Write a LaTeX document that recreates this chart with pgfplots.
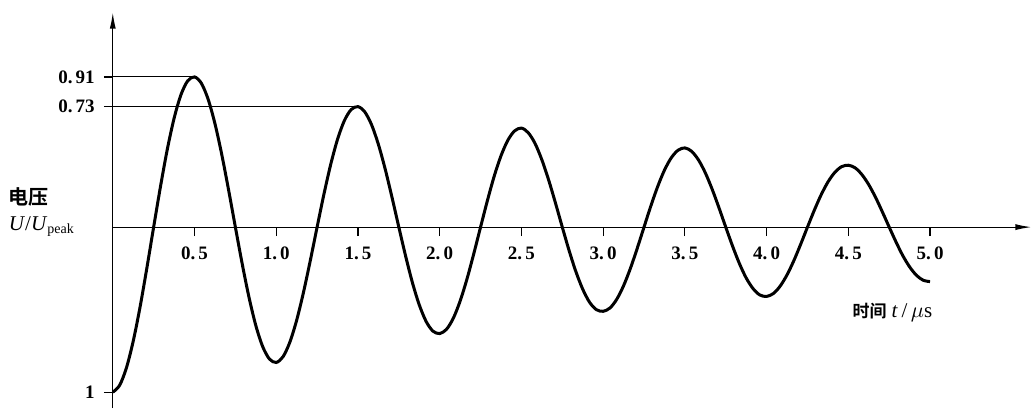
\documentclass[border=0pt]{standalone}
\usepackage{pgfplots}
\pgfplotsset{compat=1.18}
\usetikzlibrary{arrows.meta}
\usepackage{fontspec}
\setmainfont{Liberation Serif}
\newfontfamily\cjk{Noto Sans CJK SC}[BoldFont={Noto Sans CJK SC Bold}]

\begin{document}
\begin{tikzpicture}
\begin{axis}[
    x=81.7pt, y=82.5pt,
    xmin=0, xmax=5.62,
    ymin=-1.097, ymax=1.30,
    axis lines=middle,
    axis line style={line width=0.6pt, -{Latex[length=8pt,width=3pt]}},
    clip=false,
    enlargelimits=false,
    tick align=outside,
    major tick length=4.5pt,
    tick style={line width=0.6pt, black},
    xtick={0.5,1,1.5,2,2.5,3,3.5,4,4.5,5},
    xticklabels={{0.\,5},{1.\,0},{1.\,5},{2.\,0},{2.\,5},{3.\,0},{3.\,5},{4.\,0},{4.\,5},{5.\,0}},
    ytick={-1,0.73,0.91},
    yticklabels={1,{0.\,73},{0.\,91}},
    tick label style={font=\bfseries\fontsize{9.5}{10}\selectfont},
    xticklabel style={yshift=-2pt},
    yticklabel style={xshift=-1pt},
  ]
  % invisible frame that fixes the picture's extent
  \path (axis cs:-0.69,-1.097) rectangle (axis cs:5.62,1.376);

  % guide lines to the first two peaks
  \addplot[line width=0.5pt] coordinates {(0,0.91) (0.5,0.91)};
  \addplot[line width=0.5pt] coordinates {(0,0.73) (1.5,0.73)};

  % damped ring wave, every 1/24 us
  \addplot[smooth, line width=1.5pt] coordinates {
    (0,-1.000) (0.0417,-0.959) (0.0833,-0.853) (0.125,-0.691) (0.1667,-0.485) (0.2083,-0.249)
    (0.25,0) (0.2917,0.245) (0.3333,0.470) (0.375,0.659) (0.4167,0.801) (0.4583,0.886)
    (0.5,0.910) (0.5417,0.872) (0.5833,0.775) (0.625,0.627) (0.6667,0.440) (0.7083,0.226)
    (0.75,0) (0.7917,-0.222) (0.8333,-0.425) (0.875,-0.596) (0.9167,-0.723) (0.9583,-0.799)
    (1.0,-0.820) (1.0417,-0.785) (1.0833,-0.697) (1.125,-0.564) (1.1667,-0.395) (1.2083,-0.203)
    (1.25,0) (1.2917,0.199) (1.3333,0.380) (1.375,0.532) (1.4167,0.645) (1.4583,0.712)
    (1.5,0.730) (1.5417,0.698) (1.5833,0.620) (1.625,0.501) (1.6667,0.351) (1.7083,0.180)
    (1.75,0) (1.7917,-0.176) (1.8333,-0.337) (1.875,-0.471) (1.9167,-0.571) (1.9583,-0.630)
    (2.0,-0.645) (2.0417,-0.619) (2.0833,-0.552) (2.125,-0.448) (2.1667,-0.315) (2.2083,-0.162)
    (2.25,0) (2.2917,0.160) (2.3333,0.308) (2.375,0.432) (2.4167,0.526) (2.4583,0.583)
    (2.5,0.600) (2.5417,0.572) (2.5833,0.507) (2.625,0.408) (2.6667,0.285) (2.7083,0.146)
    (2.75,0) (2.7917,-0.142) (2.8333,-0.270) (2.875,-0.376) (2.9167,-0.455) (2.9583,-0.500)
    (3.0,-0.510) (3.0417,-0.490) (3.0833,-0.437) (3.125,-0.355) (3.1667,-0.250) (3.2083,-0.129)
    (3.25,0) (3.2917,0.128) (3.3333,0.245) (3.375,0.345) (3.4167,0.420) (3.4583,0.466)
    (3.5,0.480) (3.5417,0.459) (3.5833,0.407) (3.625,0.329) (3.6667,0.230) (3.7083,0.118)
    (3.75,0) (3.7917,-0.115) (3.8333,-0.220) (3.875,-0.308) (3.9167,-0.372) (3.9583,-0.411)
    (4.0,-0.420) (4.0417,-0.402) (4.0833,-0.357) (4.125,-0.289) (4.1667,-0.203) (4.2083,-0.104)
    (4.25,0) (4.2917,0.102) (4.3333,0.195) (4.375,0.273) (4.4167,0.331) (4.4583,0.366)
    (4.5,0.375) (4.5417,0.359) (4.5833,0.318) (4.625,0.257) (4.6667,0.180) (4.7083,0.092)
    (4.75,0) (4.7917,-0.090) (4.8333,-0.173) (4.875,-0.241) (4.9167,-0.292) (4.9583,-0.322)
    (5.0,-0.330)
  };

  % axis titles
  \node[anchor=east, align=left, inner sep=0pt] at (axis cs:-0.23,0.09)
    {{\cjk\bfseries\fontsize{10}{11}\selectfont 电压}\\[1pt]
     {\fontsize{10.5}{11}\selectfont\itshape U\/\upshape/\itshape U\/\upshape\textsubscript{\fontsize{7}{7}\selectfont peak}}};
  \node[anchor=center, inner sep=0pt] at (axis cs:4.77,-0.515)
    {{\cjk\bfseries\fontsize{8.5}{9}\selectfont 时间} {\fontsize{10.5}{11}\selectfont\itshape t\/\upshape\,/\,$\mu$s}};
\end{axis}
\end{tikzpicture}
\end{document}
